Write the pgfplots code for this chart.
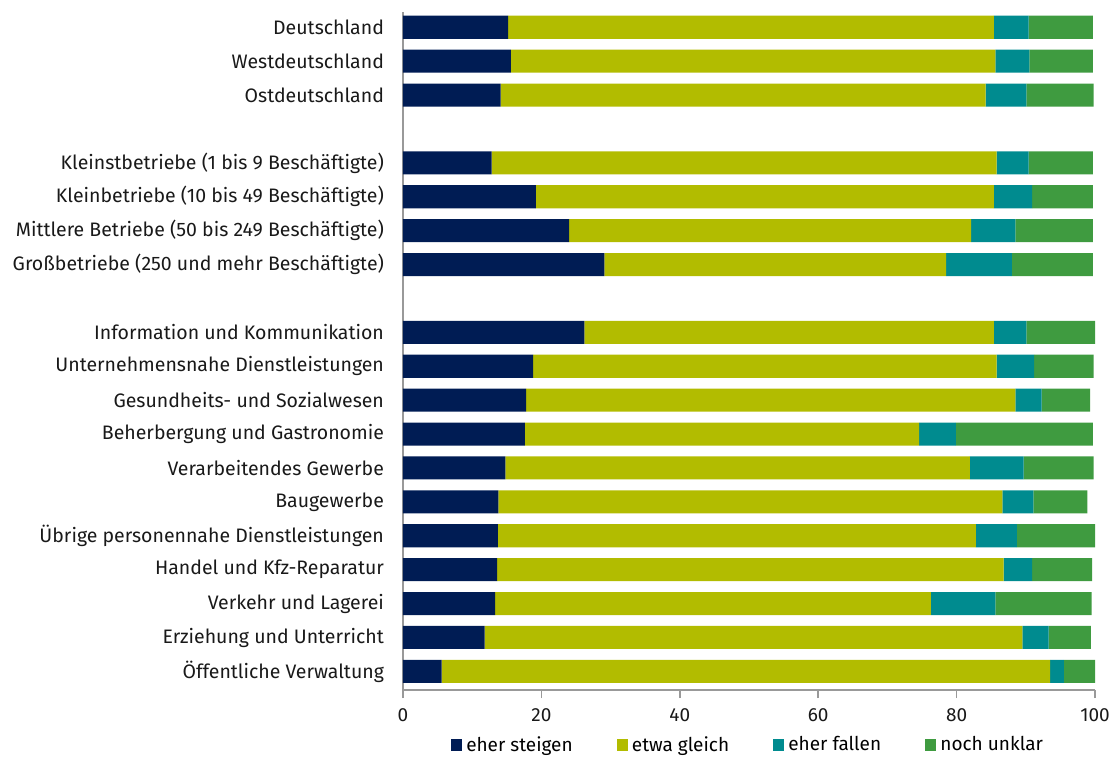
\documentclass[border=0pt]{standalone}
\usepackage{fontspec}
\setmainfont{Fira Sans}
\usepackage{pgfplots}
\usepackage{pgfplotstable}
\pgfplotsset{compat=1.18}
\definecolor{cA}{HTML}{001C54}
\definecolor{cB}{HTML}{B2BC00}
\definecolor{cC}{HTML}{008B8F}
\definecolor{cD}{HTML}{3F9B40}
\pgfplotstableread{
y a b c d
0 15.2 70.2 5.0 9.3
1 15.6 70.0 4.9 9.2
2 14.1 70.1 5.9 9.7
4 12.8 73.0 4.6 9.3
5 19.2 66.2 5.5 8.8
6 24.0 58.1 6.4 11.2
7 29.1 49.4 9.5 11.7
9 26.2 59.2 4.7 9.9
10 18.8 67.0 5.4 8.6
11 17.8 70.7 3.8 7.0
12 17.6 57.0 5.3 19.8
13 14.8 67.1 7.8 10.1
14 13.8 72.8 4.5 7.8
15 13.7 69.1 5.9 11.3
16 13.6 73.2 4.1 8.7
17 13.3 63.0 9.3 13.9
18 11.8 77.7 3.8 6.1
19 5.6 87.9 2.0 4.6
}\data
\begin{document}
\begin{tikzpicture}[x=0.5pt,y=0.5pt]
\useasboundingbox (-403,-66) rectangle (715,690);
\begin{axis}[
  at={(0,0)}, anchor=south west,
  scale only axis, width=346pt, height=339pt,
  xbar stacked, bar width=0.68,
  xmin=0, xmax=100, ymin=-0.45, ymax=19.55,
  y dir=reverse,
  axis x line*=bottom, axis y line*=left,
  axis line style={draw=gray!80, line width=0.8pt},
  xtick={0,20,40,60,80,100},
  ytick={0,1,2,4,5,6,7,9,10,11,12,13,14,15,16,17,18,19},
  yticklabels={Deutschland,Westdeutschland,Ostdeutschland,
    Kleinstbetriebe (1 bis 9 Beschäftigte),
    Kleinbetriebe (10 bis 49 Beschäftigte),
    Mittlere Betriebe (50 bis 249 Beschäftigte),
    Großbetriebe (250 und mehr Beschäftigte),
    Information und Kommunikation,
    Unternehmensnahe Dienstleistungen,
    Gesundheits- und Sozialwesen,
    Beherbergung und Gastronomie,
    Verarbeitendes Gewerbe,
    Baugewerbe,
    Übrige personennahe Dienstleistungen,
    Handel und Kfz-Reparatur,
    Verkehr und Lagerei,
    Erziehung und Unterricht,
    Öffentliche Verwaltung},
  y tick style={draw=none},
  x tick style={draw=gray!80, line width=0.8pt},
  major tick length=4pt,
  tick align=outside,
  /pgf/number format/assume math mode=true,
  tick label style={font=\fontsize{9.5pt}{11pt}\selectfont, text=black!90},
  yticklabel style={xshift=-2pt, font=\fontsize{9.75pt}{11pt}\selectfont},
  xticklabel style={yshift=-2pt},
  legend style={at={(0.5,-0.062)}, anchor=north, legend columns=4, draw=none,
    font=\fontsize{9.5pt}{11pt}\selectfont, inner sep=0pt,
    /tikz/every even column/.append style={column sep=20pt}},
  legend cell align=left,
  legend image code/.code={\fill[#1] (0pt,-3pt) rectangle (5.6pt,3pt);},
]
\addplot[fill=cA, draw=none] table[x=a, y=y] {\data};
\addplot[fill=cB, draw=none] table[x=b, y=y] {\data};
\addplot[fill=cC, draw=none] table[x=c, y=y] {\data};
\addplot[fill=cD, draw=none] table[x=d, y=y] {\data};
\legend{eher steigen, etwa gleich, eher fallen, noch unklar}
\end{axis}
\end{tikzpicture}
\end{document}
